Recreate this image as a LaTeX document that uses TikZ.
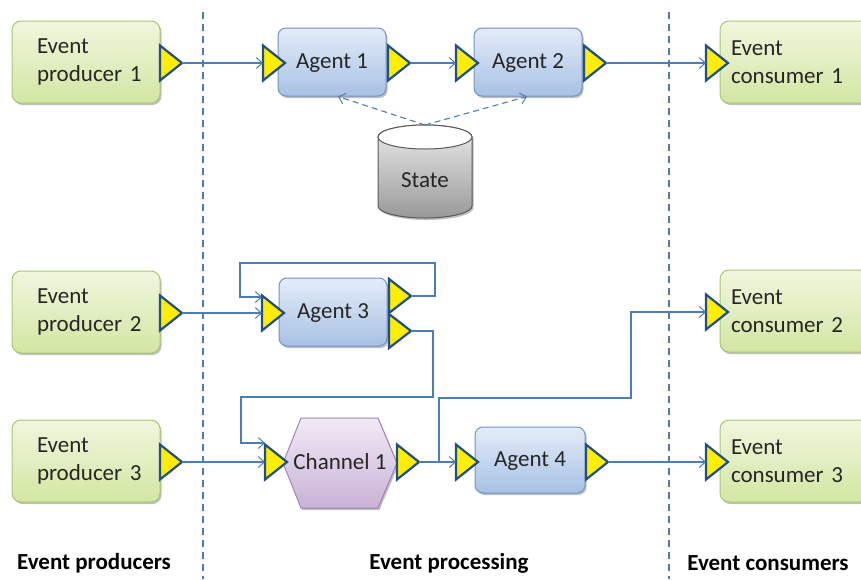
\documentclass[tikz,border=0pt]{standalone}
\usepackage{fontspec}
\setmainfont{Carlito}
\usetikzlibrary{shapes.geometric,arrows.meta,shadows,calc}
\definecolor{conn}{HTML}{4A7EBB}
\definecolor{grnT}{HTML}{F0F6DE}
\definecolor{grnD}{HTML}{D3E6A2}
\definecolor{grnB}{HTML}{A9C870}
\definecolor{bluT}{HTML}{E4ECF8}
\definecolor{bluD}{HTML}{A7C1E4}
\definecolor{bluB}{HTML}{6F94C6}
\definecolor{purT}{HTML}{F1EAF5}
\definecolor{purD}{HTML}{C8B2D6}
\definecolor{purB}{HTML}{A183B8}
\definecolor{portY}{HTML}{FFEE00}
\definecolor{portB}{HTML}{1F4E8C}
\definecolor{txt}{HTML}{262626}
\begin{document}
\begin{tikzpicture}[x=1pt,y=-1pt,
  every node/.style={font=\fontsize{23}{28}\selectfont, text=txt},
  shad/.style={drop shadow={shadow xshift=1.5pt, shadow yshift=-2pt, opacity=0.25, fill=black}},
  greenbox/.style={draw=grnB, line width=1pt, rounded corners=9pt, top color=grnT, bottom color=grnD,
     minimum height=82pt, align=left, shad},
  prodbox/.style={greenbox, text width=98pt, inner xsep=25pt, minimum width=148pt},
  consbox/.style={greenbox, text width=126pt, inner xsep=11pt, minimum width=148pt},
  agent/.style={draw=bluB, line width=1pt, rounded corners=8pt, top color=bluT, bottom color=bluD,
     minimum width=108pt, minimum height=68pt, text depth=2pt, shad},
  port/.style={shape=isosceles triangle, isosceles triangle stretches, minimum width=35pt, minimum height=22pt,
     inner sep=0pt, outer sep=0pt, fill=portY, draw=portB, line width=2.2pt, anchor=lower side},
  conn/.style={draw=conn, line width=1.1pt, -{Straight Barb[length=6pt,width=11pt,line width=1pt]}},
  sep/.style={draw=conn, line width=2pt, dash pattern=on 7pt off 5pt},
  stdash/.style={dash pattern=on 6pt off 4pt},
  lab/.style={font=\fontsize{23}{27}\selectfont\bfseries, text=black}
]
\useasboundingbox (0,0) rectangle (861,579);

% separators
\draw[sep] (203,12) -- (203,579);
\draw[sep] (669,12) -- (669,579);

% producers
\node[prodbox] (p1) at (86,62) {Event\\producer~1};
\node[prodbox] (p2) at (86,312) {Event\\producer~2};
\node[prodbox] (p3) at (86,461) {Event\\producer~3};
% consumers
\node[consbox] (c1) at (794,62) {Event\\consumer~1};
\node[consbox] (c2) at (794,311) {Event\\consumer~2};
\node[consbox] (c3) at (794,461) {Event\\consumer~3};

% agents
\node[agent] (a1) at (332,62) {Agent 1};
\node[agent] (a2) at (528,62) {Agent 2};
\node[agent] (a3) at (333,312) {Agent 3};
\node[agent, minimum width=110pt, minimum height=66pt] (a4) at (530,460) {Agent 4};

% channel hexagon
\path[draw=purB, line width=1pt, top color=purT, bottom color=purD, shad]
  (283,463) -- (301,418) -- (378,418) -- (397,463) -- (378,508) -- (301,508) -- cycle;
\node[text depth=2pt] (ch) at (340,463) {Channel 1};

% state cylinder
\path[draw=black!65, line width=1pt, top color=black!8, bottom color=black!40, shad]
  (378,137) -- (378,206) arc[start angle=180, end angle=360, x radius=47, y radius=-12]
  -- (472,137) arc[start angle=0, end angle=180, x radius=47, y radius=-12] -- cycle;
\draw[black!65, line width=1pt, fill=white] (425,137) ellipse[x radius=47, y radius=12];
\node (st) at (425,180) {State};
\coordinate (sttop) at (425,125);

% ports
\node[port] (p1o) at (160,63) {};
\node[port] (p2o) at (160,313) {};
\node[port] (p3o) at (160,462) {};
\node[port] (a1i) at (263,63) {};
\node[port] (a1o) at (388,63) {};
\node[port] (a2i) at (456,63) {};
\node[port] (a2o) at (584,63) {};
\node[port] (c1i) at (706,63) {};
\node[port] (a3i) at (262,313) {};
\node[port, minimum width=34pt] (a3o1) at (389,296) {};
\node[port, minimum width=34pt] (a3o2) at (389,331) {};
\node[port] (chi) at (265,462) {};
\node[port] (cho) at (397,462) {};
\node[port] (a4i) at (456,462) {};
\node[port] (a4o) at (586,462) {};
\node[port] (c2i) at (706,312) {};
\node[port] (c3i) at (706,462) {};

% connectors
\draw[conn] (p1o.apex) -- (a1i.lower side);
\draw[conn] (a1o.apex) -- (a2i.lower side);
\draw[conn] (a2o.apex) -- (c1i.lower side);
\draw[conn] (p2o.apex) -- (a3i.lower side);
\coordinate (a3loop) at ($(a3i.lower side)+(0,-16)$);
\draw[conn] (a3o1.apex) -| (435,263) -- (240,263) |- (a3loop);
\coordinate (chloop) at ($(chi.lower side)+(0,-19)$);
\draw[conn] (a3o2.apex) -| (433,397) -- (241,397) |- (chloop);
\draw[conn] (p3o.apex) -- (chi.lower side);
\draw[conn] (cho.apex) -- (a4i.lower side);
\coordinate (br) at ($(cho.apex)+(20,0)$);
\draw[conn] (br) |- (631,398) |- (c2i.lower side);
\draw[conn] (a4o.apex) -- (c3i.lower side);
\draw[conn, stdash] (sttop) -- ([xshift=6pt]a1.south);
\draw[conn, stdash] (sttop) -- ([xshift=-1pt]a2.south);

% labels
\node[lab] (lp) at (94,563) {Event producers};
\node[lab] (lq) at (449,563) {Event processing};
\node[lab] (lc) at (768,563) {Event consumers};
\end{tikzpicture}
\end{document}
